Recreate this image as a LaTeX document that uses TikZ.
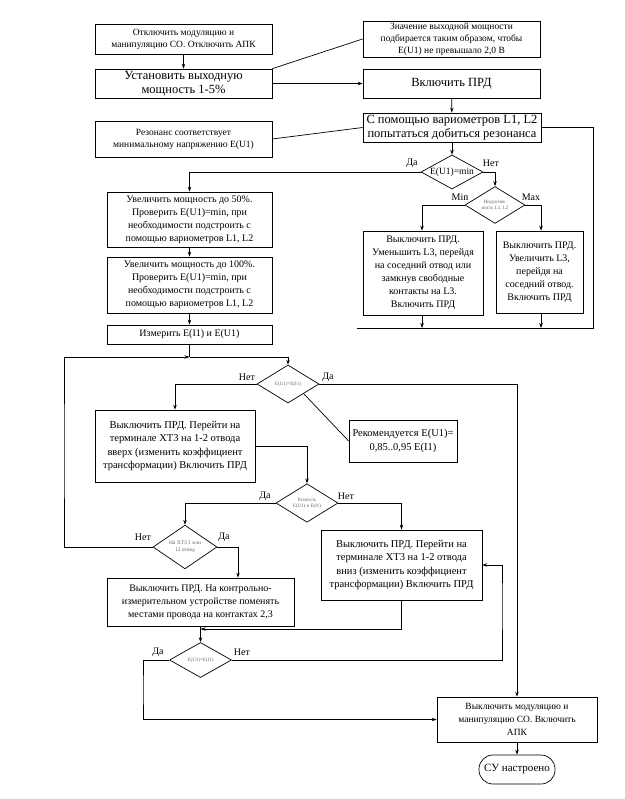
\documentclass[tikz,border=0pt]{standalone}
\usepackage{fontspec}
\setmainfont{Liberation Serif}
\usetikzlibrary{arrows.meta,shapes.geometric}
\begin{document}
\begin{tikzpicture}[x=1pt,y=-1pt,
  every path/.style={line width=0.7pt},
  box/.style={draw,line width=0.7pt,inner sep=0pt,align=center,font=\fontsize{10}{13}\selectfont},
  bigbox/.style={box,font=\fontsize{12.5}{14.5}\selectfont},
  smallbox/.style={box,font=\fontsize{9.5}{12}\selectfont},
  dia/.style={draw,diamond,line width=0.7pt,inner sep=0pt,align=center,text=black!60,font=\fontsize{5}{6}\selectfont},
  lbl/.style={inner sep=0pt,font=\fontsize{10}{12}\selectfont},
  arr/.style={-{Stealth[length=5pt,width=3.5pt]}},
  term/.style={draw,line width=0.7pt,rounded corners=14pt,inner sep=0pt,font=\fontsize{11}{13}\selectfont}
]
\useasboundingbox (0,0) rectangle (624,799);
\fill[white] (0,0) rectangle (624,799);

% top part
\node[smallbox,minimum width=177pt,minimum height=30pt] (b1) at (183.5,39) {Отключить модуляцию и\\манипуляцию СО. Отключить АПК};
\node[bigbox,minimum width=177pt,minimum height=29pt] (b2) at (183.5,83.5) {Установить выходную\\мощность 1-5\%};
\node[smallbox,minimum width=177pt,minimum height=36pt] (n1) at (451.5,39) {Значение выходной мощности\\подбирается таким образом, чтобы\\E(U1) не превышало 2,0 В};
\node[bigbox,minimum width=177pt,minimum height=29pt] (prd) at (451.5,83.5) {Включить ПРД};
\node[bigbox,minimum width=178pt,minimum height=29pt] (res) at (452,127.5) {С помощью вариометров L1, L2\\попытаться добиться резонанса};
\node[smallbox,minimum width=177pt,minimum height=36pt] (n2) at (183.5,139) {Резонанс соответствует\\минимальному напряжению E(U1)};
\node[dia,minimum width=62pt,minimum height=34pt,text=black,font=\fontsize{9.5}{12}\selectfont] (d1) at (452,172) {\makebox[0pt]{E(U1)=min}};
\node[dia,minimum width=60pt,minimum height=34pt] (d2) at (495,205) {Индуктив-\\ность L1, L2};
\node[box,minimum width=120pt,minimum height=84pt] (bmin) at (423,273) {Выключить ПРД.\\Уменьшить L3, перейдя\\на соседний отвод или\\замкнув свободные\\контакты на L3.\\Включить ПРД};
\node[box,minimum width=87pt,minimum height=82pt] (bmax) at (539.5,272) {Выключить ПРД.\\Увеличить L3,\\перейдя на\\соседний отвод.\\Включить ПРД};

% left column
\node[box,minimum width=165pt,minimum height=55pt] (l1) at (189.5,219.5) {Увеличить мощность до 50\%.\\Проверить E(U1)=min, при\\необходимости подстроить с\\помощью вариометров L1, L2};
\node[box,minimum width=165pt,minimum height=56pt] (l2) at (189.5,285) {Увеличить мощность до 100\%.\\Проверить E(U1)=min, при\\необходимости подстроить с\\помощью вариометров L1, L2};
\node[box,minimum width=165pt,minimum height=19pt] (l3) at (189.5,334.5) {Измерить E(I1) и E(U1)};

% middle
\node[dia,minimum width=62pt,minimum height=38pt] (d3) at (288,384) {E(U1)=E(I1)};
\node[box,minimum width=160pt,minimum height=72pt,font=\fontsize{10.5}{13.5}\selectfont] (bup) at (175,446) {Выключить ПРД. Перейти на\\терминале XT3 на 1-2 отвода\\вверх (изменить коэффициент\\трансформации) Включить ПРД};
\node[box,minimum width=108pt,minimum height=42pt,font=\fontsize{10.5}{13.5}\selectfont] (rec) at (403,441) {Рекомендуется E(U1)=\\0,85..0,95 E(I1)};
\node[dia,minimum width=62pt,minimum height=38pt] (d4) at (307,503) {Разность\\E(U1) и E(I1)};
\node[dia,minimum width=64pt,minimum height=40pt,font=\fontsize{5.5}{7}\selectfont] (d5) at (185,547) {На XT3 1 или\\12 отвод};
\node[box,minimum width=161pt,minimum height=70pt,font=\fontsize{10.5}{13.5}\selectfont] (bdown) at (401.5,565) {Выключить ПРД. Перейти на\\терминале XT3 на 1-2 отвода\\вниз (изменить коэффициент\\трансформации) Включить ПРД};
\node[box,minimum width=187pt,minimum height=48pt] (bctrl) at (200.5,602) {Выключить ПРД. На контрольно-\\измерительном устройстве поменять\\местами провода на контактах 2,3};
\node[dia,minimum width=62pt,minimum height=35pt] (d6) at (200.5,660) {E(U1)=E(I1)};
\node[box,minimum width=160pt,minimum height=45pt,font=\fontsize{9.5}{13}\selectfont] (bfin) at (517,719.5) {Выключить модуляцию и\\манипуляцию СО. Включить\\АПК};
\node[term,minimum width=76pt,minimum height=29pt] (t) at (517,769.5) {СУ настроено};

% labels
\node[lbl] (la1) at (412,163) {Да};
\node[lbl] (la2) at (491,163) {Нет};
\node[lbl] (la3) at (460,197) {Min};
\node[lbl] (la4) at (531,197) {Max};
\node[lbl] (la5) at (247,377) {Нет};
\node[lbl] (la6) at (328,377) {Да};
\node[lbl] (la7) at (265,496) {Да};
\node[lbl] (la8) at (346,496) {Нет};
\node[lbl] (la9) at (143,537) {Нет};
\node[lbl] (la10) at (224,537) {Да};
\node[lbl] (la11) at (158,652) {Да};
\node[lbl] (la12) at (242,652) {Нет};

% coordinates
\coordinate (lb) at (357,328);
\coordinate (rb) at (593,328);
\coordinate (j) at (189.5,357);
\coordinate (lp) at (64,450);
\coordinate (m) at (200.5,629);
\coordinate (c6l) at (143,690);
\coordinate (c6r) at (502,600);

% connectors
\draw[arr] (b1) -- (b2);
\draw (b2.north east) -- (n1.west);
\draw[arr] (b2) -- (prd);
\draw[arr] (prd) -- (res);
\draw (n2.east) -- (res.west);
\draw[arr] (res) -- (d1);
\draw[arr] (d1.west) -| (l1.north);
\draw[arr] (d1.east) -| (d2.north);
\draw[arr] (d2.west) -| ([xshift=-1pt]bmin.north);
\draw[arr] (d2.east) -| ([xshift=1.5pt]bmax.north);
\draw[arr] ([xshift=-1pt]bmin.south) -- ([xshift=-1pt]bmin.south |- lb);
\draw[arr] ([xshift=1.5pt]bmax.south) -- ([xshift=1.5pt]bmax.south |- lb);
\draw (lb) -- (rb) |- (res.east);
\draw[arr] (l1) -- (l2);
\draw[arr] (l2) -- (l3);
\draw (l3.south) -- (j);
\draw[arr] (j) -| (d3.north);
\draw[arr] (d5.west) -| (lp) |- (j);
\draw[arr] (d3.west) -| (bup.north);
\draw[arr] (d3.east) -| (bfin.north);
\draw (d3.south east) -- (rec.west);
\draw[arr] (bup.east) -| (d4.north);
\draw[arr] (d4.west) -| (d5.north);
\draw[arr] (d4.east) -| (bdown.north);
\draw[arr] (d5.east) -| ([xshift=37.5pt]bctrl.north);
\draw[arr] (bctrl) -- (d6);
\draw[arr] (bdown.south) |- (m);
\draw[arr] (d6.west) -| (c6l) |- (bfin.west);
\draw[arr] (d6.east) -| (c6r) |- (bdown.east);
\draw[arr] (bfin) -- (t);
\end{tikzpicture}
\end{document}
